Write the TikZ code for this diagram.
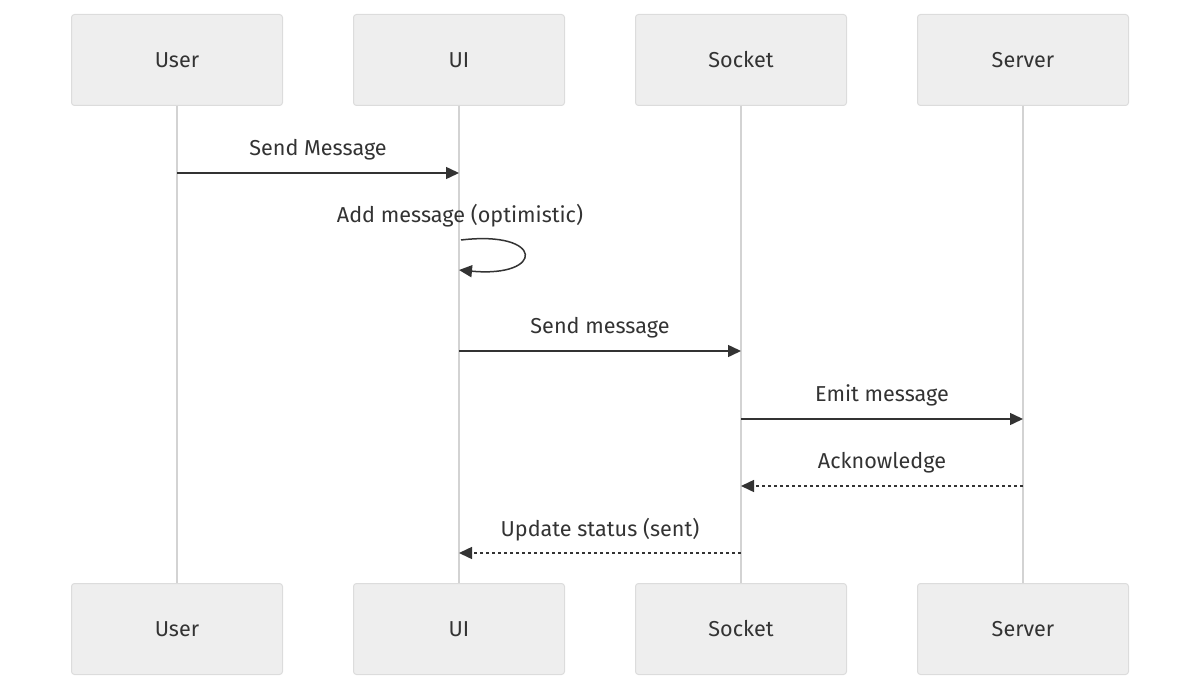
\documentclass[tikz,border=0pt]{standalone}
\usepackage{fontspec}
\setmainfont{Fira Sans}
\usetikzlibrary{arrows.meta}
\definecolor{boxfill}{HTML}{EEEEEE}
\definecolor{boxline}{HTML}{DCDCDC}
\definecolor{lifegray}{HTML}{D3D3D3}
\definecolor{inkgray}{HTML}{333333}
\begin{document}
\begin{tikzpicture}[x=0.5pt,y=-0.5pt,
    actor/.style={draw=boxline,line width=0.5pt,fill=boxfill,rounded corners=1.5pt,
      minimum width=105.5pt,minimum height=45.5pt,text=inkgray,
      font=\fontsize{10.8}{13}\selectfont},
    lifeline/.style={draw=lifegray,line width=1pt},
    msg/.style={draw=inkgray,line width=0.75pt,-{Triangle[length=6.5pt,width=6pt]}},
    reply/.style={msg,dash pattern=on 1.5pt off 1.5pt},
    msglabel/.style={midway,yshift=11.8pt,text=inkgray,font=\fontsize{10.8}{13}\selectfont}]
  \useasboundingbox (0,0) rectangle (1200,690);
  % participants, top and bottom
  \foreach \name/\lbl/\x in {user/User/177,ui/UI/459,socket/Socket/741,server/Server/1023}{
    \node[actor] (\name top) at (\x,60) {\lbl};
    \node[actor] (\name bot) at (\x,629) {\lbl};
    \draw[lifeline] (\name top) -- (\name bot);
  }
  % message ends on the lifelines
  \coordinate (m1a) at (177,173);  \coordinate (m1b) at (459,173);
  \coordinate (m2a) at (461,240);  \coordinate (m2b) at (459,270);
  \coordinate (m3a) at (459,351);  \coordinate (m3b) at (741,351);
  \coordinate (m4a) at (741,419);  \coordinate (m4b) at (1023,419);
  \coordinate (m5a) at (1023,486); \coordinate (m5b) at (741,486);
  \coordinate (m6a) at (741,553);  \coordinate (m6b) at (459,553);
  \draw[msg] (m1a) -- (m1b) node[msglabel] {Send Message};
  \node[text=inkgray,font=\fontsize{10.8}{13}\selectfont] (m2label) at (460,216) {Add message (optimistic)};
  \draw[msg] (m2a) .. controls (545,230) and (545,278) .. (m2b);
  \draw[msg] (m3a) -- (m3b) node[msglabel] {Send message};
  \draw[msg] (m4a) -- (m4b) node[msglabel] {Emit message};
  \draw[reply] (m5a) -- (m5b) node[msglabel] {Acknowledge};
  \draw[reply] (m6a) -- (m6b) node[msglabel] {Update status (sent)};
\end{tikzpicture}
\end{document}
